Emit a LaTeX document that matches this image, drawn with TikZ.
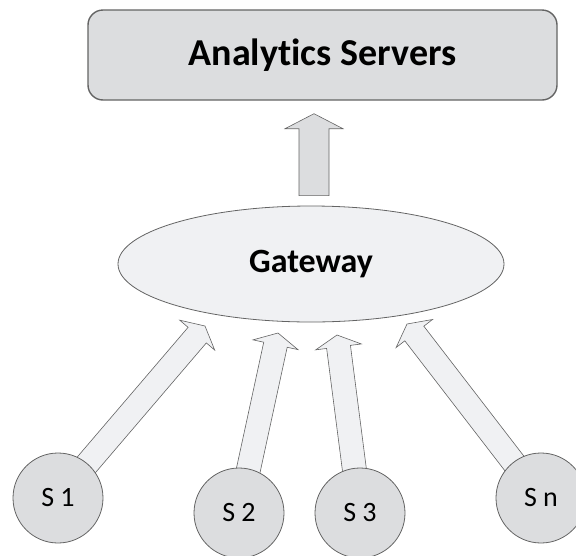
\documentclass[tikz,border=0pt]{standalone}
\usepackage{fontspec}
\setmainfont{Carlito}[Ligatures={NoCommon}]
\usetikzlibrary{shapes.geometric, calc, backgrounds}
\definecolor{boxgray}{HTML}{DCDDDF}
\definecolor{palegray}{HTML}{F0F1F3}
\definecolor{edgegray}{HTML}{646464}
\tikzstyle{server} = [draw=edgegray, line width=1.4pt, fill=boxgray, rounded corners=15pt, minimum width=469pt, minimum height=90pt, font=\bfseries\fontsize{38}{45}\selectfont]
\tikzstyle{gateway} = [ellipse, draw=edgegray, line width=0.8pt, fill=palegray, minimum width=386pt, minimum height=116pt, inner sep=0pt, font=\bfseries\fontsize{34}{40}\selectfont]
\tikzstyle{sensor} = [circle, draw=edgegray, line width=0.8pt, fill=boxgray, minimum size=90pt, inner sep=0pt, font=\fontsize{28}{34}\selectfont]
\tikzstyle{block} = [draw=edgegray, line width=0.6pt, fill=palegray, line join=miter]

\newcommand{\blockarrow}[6][block]{%
\coordinate (hb) at ($(#3)!#6!(#2)$);
\draw[#1] ($(#2)!#4!90:(#3)$) -- ($(hb)!#4!-90:(#2)$) -- ($(hb)!#5!-90:(#2)$) -- (#3)
 -- ($(hb)!#5!90:(#2)$) -- ($(hb)!#4!90:(#2)$) -- ($(#2)!#4!-90:(#3)$) -- cycle;
}

\begin{document}
\begin{tikzpicture}[x=1pt, y=-1pt]
\useasboundingbox (0,0) rectangle (576,555);

\node[server] (servers) at (322.5,55) {Analytics Servers};
\node[gateway] (gw) at (311,264) {Gateway};

\foreach \n/\x/\y/\lab in {1/58/498/S 1, 2/239/513/S 2, 3/360/513/S 3, n/541/498/S n}
{
\node[sensor] (s\n) at (\x,\y) {\lab};
}

\coordinate (up0) at ($(gw.north)+(3,-10)$);
\coordinate (up1) at ($(servers.south)+(-8.5,13)$);
\blockarrow[block, fill=boxgray]{up0}{up1}{15pt}{29pt}{15pt}

\coordinate (t1) at (205,326);
\coordinate (t2) at (278,333);
\coordinate (t3) at (337,335);
\coordinate (tn) at (407,324);

\begin{pgfonlayer}{background}
\foreach \n in {1,2,3,n}
{
\blockarrow{s\n}{t\n}{12pt}{23pt}{12pt}
}
\end{pgfonlayer}
\end{tikzpicture}
\end{document}
